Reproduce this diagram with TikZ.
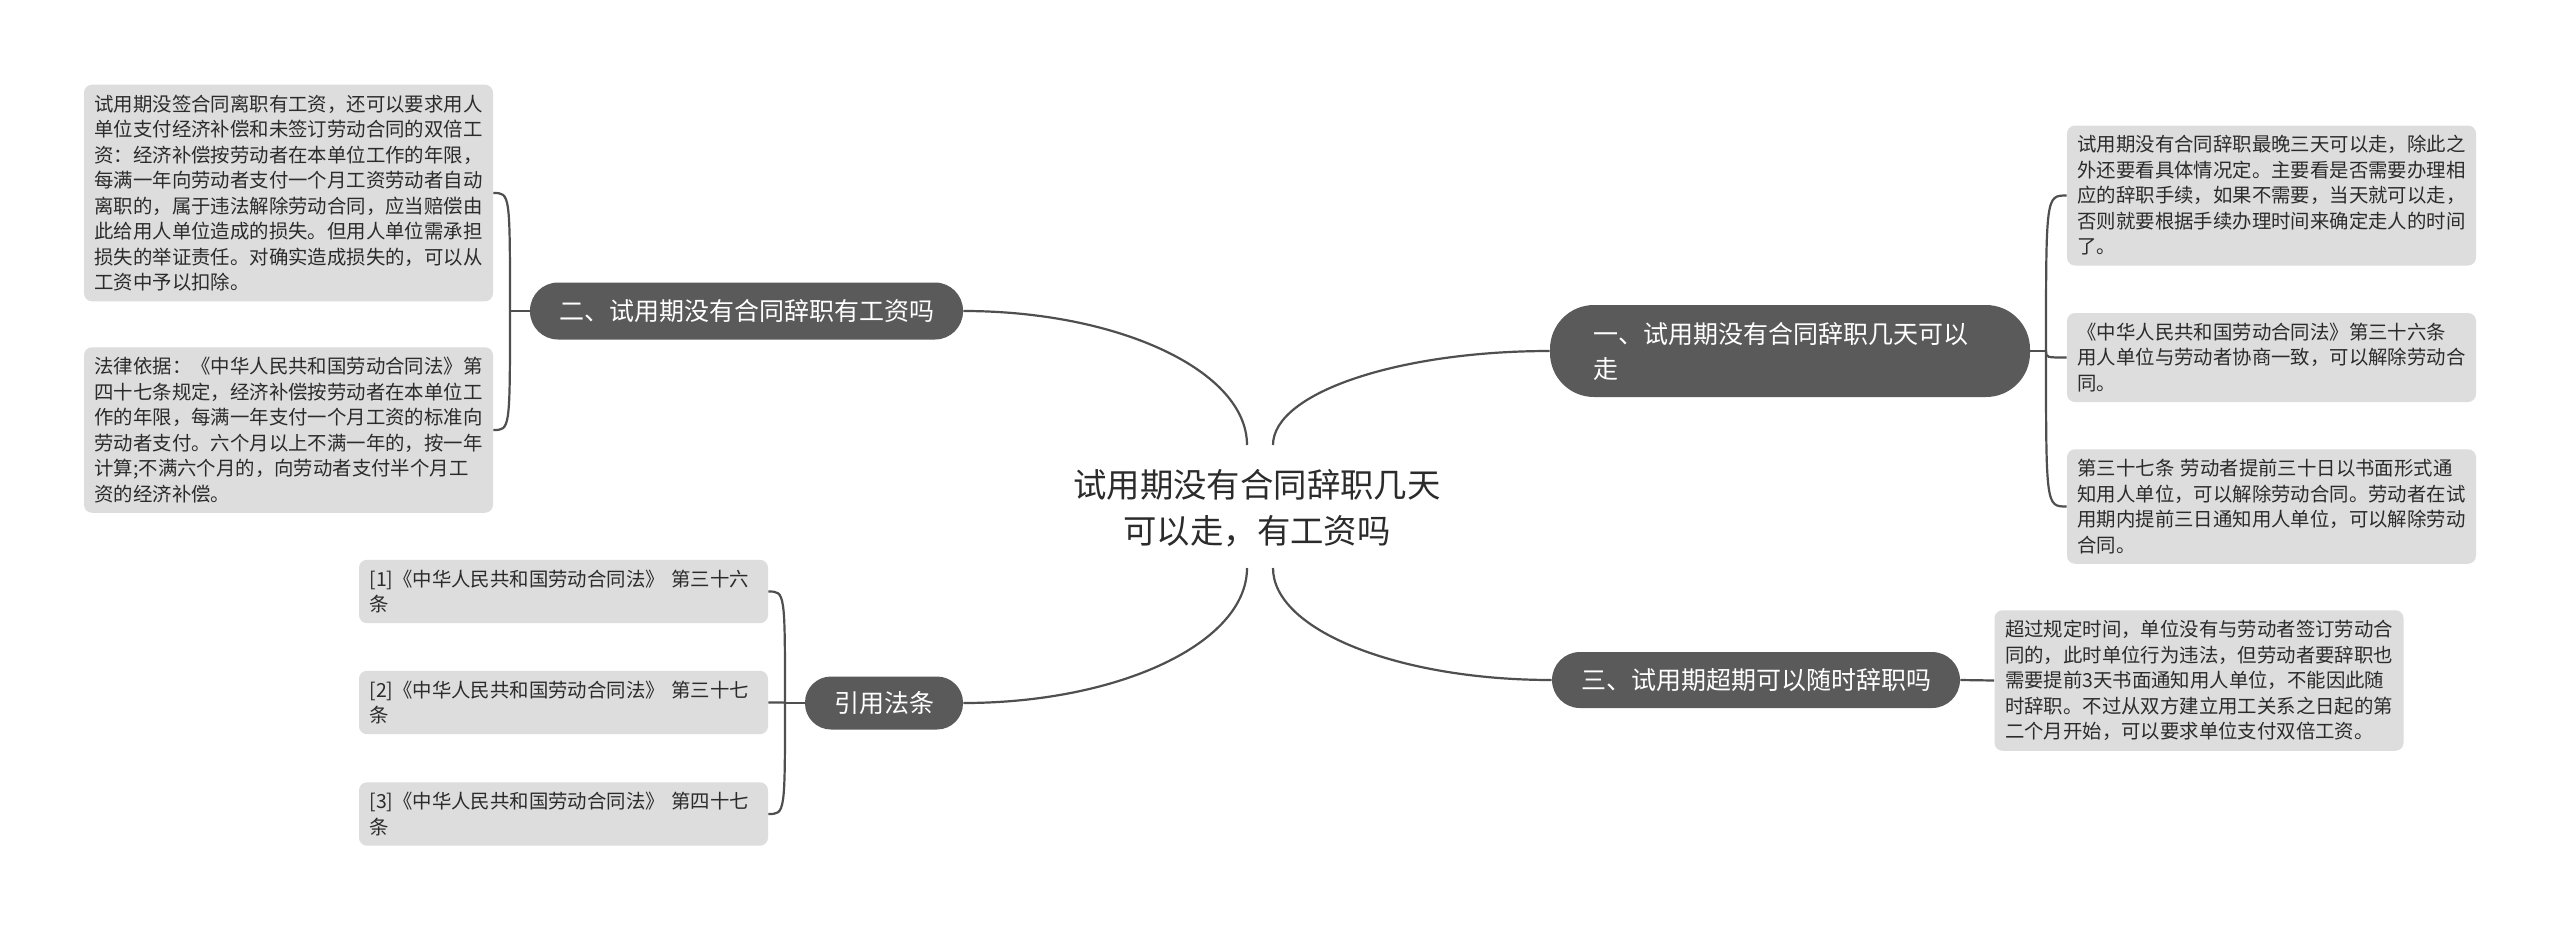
\documentclass[tikz,border=0pt]{standalone}
\usepackage{fontspec}
\setmainfont{Noto Sans CJK SC}
\definecolor{leafgray}{HTML}{DDDDDD}
\definecolor{branchgray}{HTML}{5A5A5A}
\definecolor{linegray}{HTML}{4F4F4F}
\definecolor{txt}{HTML}{2B2B2B}
\tikzset{
  leaf/.style={fill=leafgray, rounded corners=4pt, text width=194pt, inner xsep=5.25pt, inner ysep=5pt,
    align=left, text=txt, font=\fontsize{9.7pt}{12.75pt}\selectfont},
  branch/.style={fill=branchgray, text=white, font=\fontsize{12.5pt}{17.5pt}\selectfont, inner sep=0pt},
  conn/.style={draw=linegray, line width=1.1pt},
}
\begin{document}
\begin{tikzpicture}[x=0.5pt, y=-0.5pt]
\path[use as bounding box, fill=white] (0,0) rectangle (2560,933);

% root
\node[text=txt, align=center, font=\fontsize{16.7pt}{23pt}\selectfont] (root) at (1257,508)
  {试用期没有合同辞职几天\\可以走，有工资吗};
\coordinate (rtl) at (1247,445);
\coordinate (rtr) at (1273,445);
\coordinate (rbl) at (1247,568);
\coordinate (rbr) at (1273,568);

% branches
\node[branch, rounded corners=22pt, minimum width=240pt, minimum height=46pt, text width=197pt, align=left] (b1) at (1790,351)
  {一、试用期没有合同辞职几天可以\\走};
\node[branch, rounded corners=14pt, minimum width=216.5pt, minimum height=28.5pt] (b2) at (746.5,311)
  {二、试用期没有合同辞职有工资吗};
\node[branch, rounded corners=14pt, minimum width=204pt, minimum height=28pt] (b3) at (1756,680)
  {三、试用期超期可以随时辞职吗};
\node[branch, rounded corners=13pt, minimum width=79pt, minimum height=26.5pt] (b4) at (884,703)
  {引用法条};

% leaves of b2
\node[leaf] (l21) at (288.5,193) {试用期没签合同离职有工资，还可以要求用人\\单位支付经济补偿和未签订劳动合同的双倍工\\资：经济补偿按劳动者在本单位工作的年限，\\每满一年向劳动者支付一个月工资劳动者自动\\离职的，属于违法解除劳动合同，应当赔偿由\\此给用人单位造成的损失。但用人单位需承担\\损失的举证责任。对确实造成损失的，可以从\\工资中予以扣除。};
\node[leaf] (l22) at (288.5,430) {法律依据：《中华人民共和国劳动合同法》第\\四十七条规定，经济补偿按劳动者在本单位工\\作的年限，每满一年支付一个月工资的标准向\\劳动者支付。六个月以上不满一年的，按一年\\计算;不满六个月的，向劳动者支付半个月工\\资的经济补偿。};

% leaves of b1
\node[leaf] (l11) at (2271.5,195.5) {试用期没有合同辞职最晚三天可以走，除此之\\外还要看具体情况定。主要看是否需要办理相\\应的辞职手续，如果不需要，当天就可以走，\\否则就要根据手续办理时间来确定走人的时间\\了。};
\node[leaf] (l12) at (2271.5,357.5) {《中华人民共和国劳动合同法》第三十六条\\用人单位与劳动者协商一致，可以解除劳动合\\同。};
\node[leaf] (l13) at (2271.5,506.5) {第三十七条 劳动者提前三十日以书面形式通\\知用人单位，可以解除劳动合同。劳动者在试\\用期内提前三日通知用人单位，可以解除劳动\\合同。};

% leaf of b3
\node[leaf] (l31) at (2199,680.5) {超过规定时间，单位没有与劳动者签订劳动合\\同的，此时单位行为违法，但劳动者要辞职也\\需要提前3天书面通知用人单位，不能因此随\\时辞职。不过从双方建立用工关系之日起的第\\二个月开始，可以要求单位支付双倍工资。};

% refs
\node[leaf] (r1) at (563.5,591.5) {[1]《中华人民共和国劳动合同法》 第三十六\\条};
\node[leaf] (r2) at (563.5,702.5) {[2]《中华人民共和国劳动合同法》 第三十七\\条};
\node[leaf] (r3) at (563.5,814) {[3]《中华人民共和国劳动合同法》 第四十七\\条};

% root connectors
\draw[conn] (rtl) .. controls (1247,371) and (1119,311) .. (b2.east);
\draw[conn] (rtr) .. controls (1273,393) and (1398,351) .. (b1.west);
\draw[conn] (rbl) .. controls (1247,643) and (1119,703) .. (b4.east);
\draw[conn] (rbr) .. controls (1273,630) and (1398,680) .. (b3.west);

% b2 spine
\coordinate (s2) at (510,311);
\draw[conn] (b2.west) -- (s2);
\draw[conn] (s2) .. controls (510,193) .. (l21.east);
\draw[conn] (s2) .. controls (510,430) .. (l22.east);

% b1 spine
\coordinate (s1) at (2046,351);
\draw[conn] (b1.east) -- (s1);
\draw[conn] (s1) .. controls (2046,195.5) .. (l11.west);
\draw[conn] (s1) .. controls (2046,357.5) .. (l12.west);
\draw[conn] (s1) .. controls (2046,506.5) .. (l13.west);

% b3
\draw[conn] (b3.east) -- (l31.west);

% refs spine
\coordinate (s4) at (785,703);
\draw[conn] (b4.west) -- (s4);
\draw[conn] (s4) .. controls (785,591.5) .. (r1.east);
\draw[conn] (s4) .. controls (785,702.5) .. (r2.east);
\draw[conn] (s4) .. controls (785,814) .. (r3.east);
\end{tikzpicture}
\end{document}
